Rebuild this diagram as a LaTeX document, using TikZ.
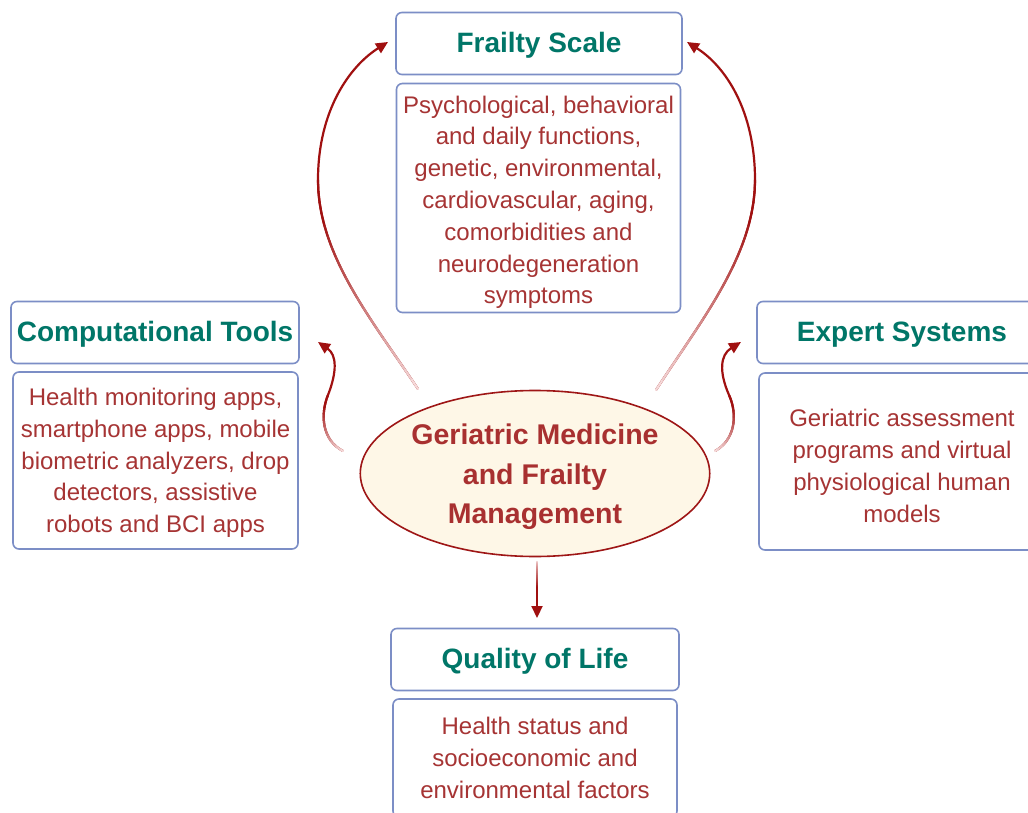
\documentclass[tikz,border=0pt]{standalone}
\usepackage{fontspec}
\setmainfont{Liberation Sans}
\usetikzlibrary{arrows.meta,shapes.geometric}
\definecolor{bordercol}{RGB}{124,142,198}
\definecolor{titlecol}{RGB}{0,118,104}
\definecolor{desccol}{RGB}{166,52,52}
\definecolor{elltext}{RGB}{168,48,48}
\definecolor{ellfill}{RGB}{254,247,231}
\definecolor{ellborder}{RGB}{158,22,22}
\definecolor{arrowcol}{RGB}{160,16,16}
\definecolor{fadecol}{RGB}{250,228,228}
\newcommand{\dstrut}{\rule{0pt}{26pt}}
\newcommand{\estrut}{\rule{0pt}{28pt}}
\newcommand{\fadecurve}[4]{%
  \foreach \i in {0,...,20}{\path (#1) .. controls (#2) and (#3) .. (#4) coordinate[pos=\i/20] (fq\i);}
  \foreach \i in {1,...,20}{%
    \pgfmathtruncatemacro\kk{\i-1}%
    \pgfmathtruncatemacro\pc{min(100,100*\i/17)}%
    \draw[line width=2.2pt, line cap=round, draw=arrowcol!\pc!fadecol] (fq\kk) -- (fq\i);}%
}
\begin{document}
\begin{tikzpicture}[x=1pt,y=-1pt,
  titlebox/.style={draw=bordercol, line width=1.6pt, rounded corners=6pt, fill=white,
    minimum width=286pt, minimum height=62pt, inner sep=0pt, text=titlecol,
    font=\fontsize{28}{32}\selectfont\bfseries, execute at begin node={\rule{0pt}{24.5pt}}},
  descbox/.style={draw=bordercol, line width=1.6pt, rounded corners=6pt, fill=white,
    minimum width=284pt, inner sep=0pt, align=center, text=desccol,
    font=\fontsize{24}{31.8}\selectfont},
  arr/.style={draw=arrowcol, line width=2.2pt, -{Triangle[length=12pt,width=11pt]}}]
\useasboundingbox (0,0) rectangle (1028,813);
\clip (0,0) rectangle (1028,813);
\fill[white] (0,0) rectangle (1028,813);

% boxes
\node[titlebox] (fs) at (539,43.5) {Frailty Scale};
\node[descbox, minimum height=229pt] (fsd) at (538.5,198) {\dstrut Psychological, behavioral\\and daily functions,\\genetic, environmental,\\cardiovascular, aging,\\comorbidities and\\neurodegeneration\\symptoms};
\node[titlebox, minimum width=288pt] (ct) at (155,332.5) {Computational Tools};
\node[descbox, minimum height=177pt, minimum width=285pt] (ctd) at (155.5,460.5) {\rule{0pt}{22pt}Health monitoring apps,\\smartphone apps, mobile\\biometric analyzers, drop\\detectors, assistive\\robots and BCI apps};
\node[titlebox, minimum width=290pt] (es) at (902,332.5) {Expert Systems};
\node[descbox, minimum height=177pt, minimum width=286pt] (esd) at (902,461.5) {\dstrut Geriatric assessment\\programs and virtual\\physiological human\\models};
\node[titlebox, minimum width=288pt] (ql) at (535,659.5) {Quality of Life};
\node[descbox, minimum height=118pt] (qld) at (535,758) {Health status and\\socioeconomic and\\environmental factors};

% central ellipse
\node[ellipse, draw=ellborder, fill=ellfill, line width=1.6pt, minimum width=340pt,
  minimum height=166pt, inner sep=0pt, align=center, text=elltext,
  font=\fontsize{28.5}{39.5}\selectfont\bfseries] (gm) at (535,473.5)
  {\estrut Geriatric Medicine\\and Frailty\\Management};

% connector coordinates
\coordinate (lb0) at (418,389); \coordinate (lb1) at (372,320); \coordinate (lb2) at (318,255);
\coordinate (lbm) at (318,180); \coordinate (lb3) at (318,110); \coordinate (lb4) at (350,66);
\coordinate (lbt) at (388,42);
\coordinate (rb0) at (656,390); \coordinate (rb1) at (700,322); \coordinate (rb2) at (755,255);
\coordinate (rbm) at (755,180); \coordinate (rb3) at (755,110); \coordinate (rb4) at (725,66);
\coordinate (rbt) at (687,42);
\coordinate (ls0) at (343,451); \coordinate (ls1) at (322,440); \coordinate (ls2) at (320,415);
\coordinate (lsm) at (328,395); \coordinate (ls3) at (337,372); \coordinate (ls4) at (337,355);
\coordinate (lst) at (318,342);
\coordinate (rs0) at (715,451); \coordinate (rs1) at (735,440); \coordinate (rs2) at (738,415);
\coordinate (rsm) at (729,395); \coordinate (rs3) at (719,372); \coordinate (rs4) at (720,355);
\coordinate (rst) at (741,342);
\coordinate (bt0) at (537,562); \coordinate (btm) at (537,590); \coordinate (btt) at (537,618);

% connectors
\draw[arr] (lb0) .. controls (lb1) and (lb2) .. (lbm) .. controls (lb3) and (lb4) .. (lbt);
\fadecurve{lb0}{lb1}{lb2}{lbm}
\draw[arr] (rb0) .. controls (rb1) and (rb2) .. (rbm) .. controls (rb3) and (rb4) .. (rbt);
\fadecurve{rb0}{rb1}{rb2}{rbm}
\draw[arr] (ls0) .. controls (ls1) and (ls2) .. (lsm) .. controls (ls3) and (ls4) .. (lst);
\fadecurve{ls0}{ls1}{ls2}{lsm}
\draw[arr] (rs0) .. controls (rs1) and (rs2) .. (rsm) .. controls (rs3) and (rs4) .. (rst);
\fadecurve{rs0}{rs1}{rs2}{rsm}
\draw[arr] (bt0) -- (btt);
\fadecurve{bt0}{bt0}{btm}{btm}
\end{tikzpicture}
\end{document}
